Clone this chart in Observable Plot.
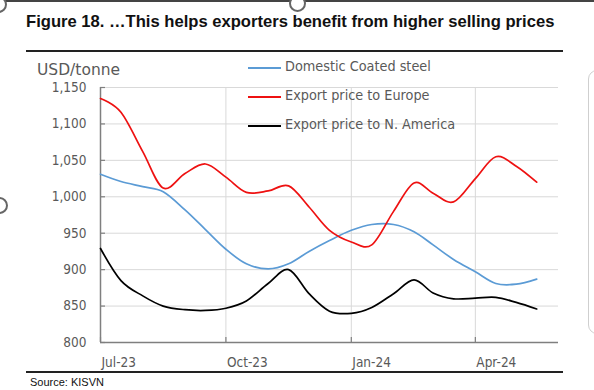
<!DOCTYPE html>
<html>
<head>
<meta charset="utf-8">
<script src="https://cdn.jsdelivr.net/npm/d3@7"></script>
<script src="https://cdn.jsdelivr.net/npm/@observablehq/plot@0.6"></script>
<style>
  html, body { margin: 0; padding: 0; background: #fff; }
  #wrap { position: relative; width: 594px; height: 390px; overflow: hidden; background: #fff; }
  #chart { position: absolute; left: 0; top: 0; }
  .abs { position: absolute; white-space: nowrap; }
  #title { left: 26px; top: 12px; font: bold 16.6px "Liberation Sans", Arial, sans-serif; color: #111; }
  .rule { position: absolute; height: 2px; background: #222; }
  #unit { left: 37px; top: 61px; font: 15.5px "DejaVu Sans", sans-serif; color: #595959; }
  .leg { position: absolute; left: 248px; font: 14.3px "DejaVu Sans Condensed", "DejaVu Sans", sans-serif; color: #595959; white-space: nowrap; }
  .leg span.sw { position: absolute; left: 0; width: 33px; height: 2px; }
  .leg span.tx { position: absolute; left: 37px; top: -9px; white-space: nowrap; }
  #source { left: 30px; top: 376px; font: 11px "Liberation Sans", Arial, sans-serif; color: #111; }
  .handle { position: absolute; width: 13px; height: 13px; border-radius: 50%; background: #fff; border: 2px solid #666; }
</style>
</head>
<body>
<div id="wrap">
  <div id="chart"></div>
  <div class="abs" style="left:0;top:0;width:594px;height:2px;background:#444"></div>
  <div class="handle" style="left:289px;top:-5px"></div>
  <div class="handle" style="left:-10px;top:-4px"></div>
  <div class="handle" style="left:-9px;top:197px"></div>
  <div class="abs" style="left:588px;top:70px;width:16px;height:262px;border:1.5px solid #cfcfcf;border-radius:9px"></div>
  <div id="title" class="abs">Figure 18. …This helps exporters benefit from higher selling prices</div>
  <div class="rule" style="left:26px;top:50px;width:537px"></div>
  <div id="unit" class="abs">USD/tonne</div>
  <div id="legend"></div>
  <div class="rule" style="left:26px;top:371px;width:537px"></div>
  <div id="source" class="abs">Source: KISVN</div>
</div>
<script>
// Half-monthly observations, Jul-2023 .. mid May-2024
const periods = ["2023-07-01","2023-07-16","2023-08-01","2023-08-16","2023-09-01","2023-09-16",
  "2023-10-01","2023-10-16","2023-11-01","2023-11-16","2023-12-01","2023-12-16",
  "2024-01-01","2024-01-16","2024-02-01","2024-02-16","2024-03-01","2024-03-16",
  "2024-04-01","2024-04-16","2024-05-01","2024-05-16"];
const seriesNames = ["Domestic Coated steel", "Export price to Europe", "Export price to N. America"];
const seriesColors = ["#5b9bd5", "#ee1111", "#000000"];
const domestic = [1031,1021,1014,1007,982,955,928,908,901,908,925,940,954,962,962,952,934,914,897,881,880,887];
const europe   = [1135,1116,1062,1012,1032,1045,1027,1006,1008,1015,986,954,938,934,980,1019,1005,993,1025,1055,1042,1020];
const america  = [929,885,864,850,845,844,847,857,881,900,867,843,840,848,867,886,868,860,861,862,855,846];
const yTicks = [800,850,900,950,1000,1050,1100,1150];
const xTickLabels = ["2023-07-01","2023-10-01","2024-01-01","2024-04-01"];
const xDomain = ["2023-07-01","2024-06-01"];

const parse = d3.utcParse("%Y-%m-%d");
const valuesBySeries = [domestic, europe, america];
const data = [];
seriesNames.forEach((name, s) => {
  periods.forEach((p, i) => data.push({series: name, date: parse(p), value: valuesBySeries[s][i]}));
});
const xTicks = xTickLabels.map(parse);

const plot = Plot.plot({
  width: 594, height: 390,
  marginLeft: 100, marginRight: 36, marginTop: 87, marginBottom: 48,
  style: {fontFamily: '"DejaVu Sans Condensed", "DejaVu Sans", sans-serif', fontSize: "13.5px", color: "#595959", background: "transparent", overflow: "visible"},
  x: {type: "utc", domain: xDomain.map(parse), label: null},
  y: {domain: [800, 1150], label: null},
  color: {domain: seriesNames, range: seriesColors},
  marks: [
    Plot.gridY(yTicks, {stroke: "#d9d9d9", strokeOpacity: 1, strokeWidth: 1}),
    Plot.gridX(xTicks, {stroke: "#d9d9d9", strokeOpacity: 1, strokeWidth: 1}),
    Plot.ruleY([800], {stroke: "#7f7f7f", strokeWidth: 1.5}),
    Plot.ruleX([parse(xDomain[0])], {stroke: "#7f7f7f", strokeWidth: 1.5}),
    Plot.axisY(yTicks, {tickSize: 5, dx: 5, tickFormat: () => "", stroke: "#7f7f7f", strokeWidth: 1.2, label: null}),
    Plot.axisY(yTicks, {tickSize: 0, tickPadding: 14, tickFormat: d3.format(","), fill: "#595959", label: null}),
    Plot.axisX(xTicks, {tickSize: 5, dy: -5, tickFormat: () => "", stroke: "#7f7f7f", strokeWidth: 1.2, label: null}),
    Plot.axisX(xTicks, {tickSize: 0, tickPadding: 15, tickFormat: d3.utcFormat("%b-%y"), textAnchor: "start", dx: 1, fill: "#595959", label: null}),
    Plot.line(data, {x: "date", y: "value", z: "series", stroke: "series", strokeWidth: 1.7, curve: "cardinal", tension: 0})
  ]
});
document.getElementById("chart").appendChild(plot);

// legend
const legendTops = [67, 96, 125];
const leg = document.getElementById("legend");
seriesNames.forEach((name, i) => {
  const row = document.createElement("div");
  row.className = "leg";
  row.style.top = legendTops[i] + "px";
  row.innerHTML = `<span class="sw" style="background:${seriesColors[i]}"></span><span class="tx">${name}</span>`;
  leg.appendChild(row);
});
</script>
</body>
</html>
